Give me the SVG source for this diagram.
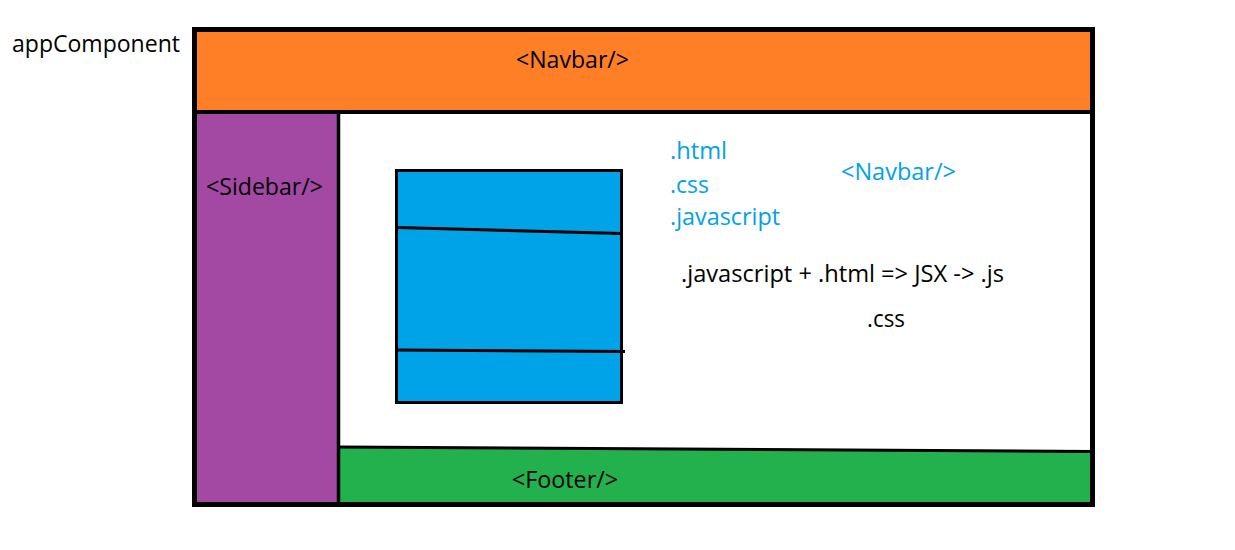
<svg xmlns="http://www.w3.org/2000/svg" width="1235" height="550" viewBox="0 0 1235 550">
<style>
.t{font-family:"Open Sans","Noto Sans",sans-serif;font-size:24px;fill:#000}
.b{fill:#00A2E8}
.ln{stroke:#000;fill:none}
</style>
<rect width="1235" height="550" fill="#fff"/>
<text class="t" x="12" y="52" textLength="168" lengthAdjust="spacingAndGlyphs">appComponent</text>
<g id="app">
<rect x="194.5" y="29.5" width="898" height="475" fill="#fff"/>
</g>
<g id="navbar">
<rect x="194.5" y="29.5" width="898" height="82.5" fill="#FF7F27"/>
<text class="t" x="516" y="68" textLength="113" lengthAdjust="spacingAndGlyphs">&lt;Navbar/&gt;</text>
</g>
<g id="sidebar">
<rect x="194.5" y="112" width="144" height="392.5" fill="#A349A4"/>
<text class="t" x="206" y="195" textLength="117" lengthAdjust="spacingAndGlyphs">&lt;Sidebar/&gt;</text>
</g>
<g id="footer">
<polygon points="338.5,447 1092.5,451.5 1092.5,504.5 338.5,504.5" fill="#22B14C"/>
<text class="t" x="512" y="488" textLength="106" lengthAdjust="spacingAndGlyphs">&lt;Footer/&gt;</text>
</g>
<g id="component">
<rect x="396.5" y="170.5" width="225" height="232" fill="#00A2E8" stroke="#000" stroke-width="3"/>
<line class="ln" x1="397" y1="227.5" x2="621" y2="233.5" stroke-width="3"/>
<line class="ln" x1="397" y1="350" x2="625" y2="351.5" stroke-width="3"/>
</g>
<g id="notes">
<text class="t b" x="670" y="159" textLength="57" lengthAdjust="spacingAndGlyphs">.html</text>
<text class="t b" x="670" y="193" textLength="39" lengthAdjust="spacingAndGlyphs">.css</text>
<text class="t b" x="670" y="225" textLength="110" lengthAdjust="spacingAndGlyphs">.javascript</text>
<text class="t b" x="841" y="180" textLength="115" lengthAdjust="spacingAndGlyphs">&lt;Navbar/&gt;</text>
<text class="t" x="681" y="282" textLength="323" lengthAdjust="spacingAndGlyphs">.javascript + .html =&gt; JSX -&gt; .js</text>
<text class="t" x="867" y="327" textLength="38" lengthAdjust="spacingAndGlyphs">.css</text>
</g>
<g id="connectors">
<line class="ln" x1="194.5" y1="112" x2="1092.5" y2="112" stroke-width="4"/>
<line class="ln" x1="338.5" y1="112" x2="338.5" y2="504.5" stroke-width="3.5"/>
<line class="ln" x1="338.5" y1="447" x2="1092.5" y2="451.5" stroke-width="3"/>
<rect class="ln" x="194.5" y="29.5" width="898" height="475" stroke-width="5"/>
</g>
</svg>
